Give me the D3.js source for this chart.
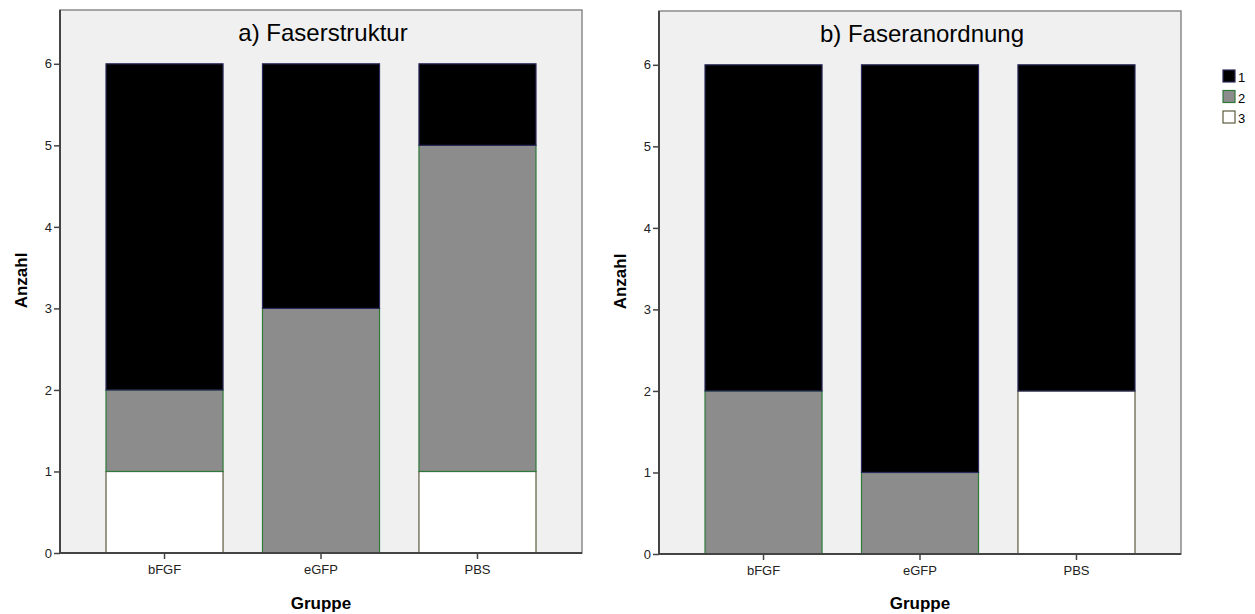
<!DOCTYPE html>
<html>
<head>
<meta charset="utf-8">
<script src="https://cdn.jsdelivr.net/npm/d3@7"></script>
<style>
  body { margin: 0; background: #fff; }
  .text { font-family: "Liberation Sans", Arial, sans-serif; fill: #000; }
  .tick text { font-family: "Liberation Sans", Arial, sans-serif; font-size: 13px; fill: #222; }
</style>
</head>
<body>
<div id="chart"></div>
<script>
// Data
const groups = ["bFGF", "eGFP", "PBS"];
const levels = ["3", "2", "1"]; // stacking order bottom -> top
const legendLevels = ["1", "2", "3"];
const yTicks = [0, 1, 2, 3, 4, 5, 6];

const faserstruktur = [
    { group: "bFGF", "3": 1, "2": 1, "1": 4 },
    { group: "eGFP", "3": 0, "2": 3, "1": 3 },
    { group: "PBS", "3": 1, "2": 4, "1": 1 }
];
const faseranordnung = [
    { group: "bFGF", "3": 0, "2": 2, "1": 4 },
    { group: "eGFP", "3": 0, "2": 1, "1": 5 },
    { group: "PBS", "3": 2, "2": 0, "1": 4 }
];

const fills = { "1": "#000000", "2": "#8c8c8c", "3": "#ffffff" };
const strokes = { "1": "#2a2a5a", "2": "#2f7a3a", "3": "#5c5a3c" };

const width = 1255;
const height = 614;

const svg = d3.select("#chart")
    .append("svg")
    .attr("width", width)
    .attr("height", height);

function drawPanel(data, titleText, left, right, top, bottom) {
    const g = svg.append("g");

    const xScale = d3.scaleBand()
        .domain(groups)
        .range([left, right])
        .paddingInner(0.252)
        .paddingOuter(0.294);

    const yScale = d3.scaleLinear()
        .domain([0, 6.66])
        .range([bottom, top]);

    // frame background
    g.append("rect")
        .attr("x", left)
        .attr("y", top)
        .attr("width", right - left)
        .attr("height", bottom - top)
        .attr("fill", "#f0f0f0")
        .attr("stroke", "#8a8a8a")
        .attr("stroke-width", 1.5);

    // stacked bars
    const stack = d3.stack().keys(levels)(data);
    g.selectAll("g.layer")
        .data(stack)
        .join("g")
        .attr("class", "layer")
        .each(function (layer) {
            d3.select(this).selectAll("rect")
                .data(layer.filter(d => d[1] - d[0] > 0))
                .join("rect")
                .attr("x", d => xScale(d.data.group))
                .attr("y", d => yScale(d[1]))
                .attr("width", xScale.bandwidth())
                .attr("height", d => yScale(d[0]) - yScale(d[1]))
                .attr("fill", fills[layer.key])
                .attr("stroke", strokes[layer.key])
                .attr("stroke-width", 1.2);
        });

    // y axis
    const yAxis = g.append("g")
        .attr("transform", `translate(${left},0)`)
        .call(d3.axisLeft(yScale).tickValues(yTicks).tickFormat(d3.format("d")).tickSize(6).tickPadding(2));
    yAxis.select(".domain").attr("stroke", "#444").attr("stroke-width", 2)
        .attr("d", `M0,${top}V${bottom}`);
    yAxis.selectAll(".tick line").attr("stroke", "#444").attr("stroke-width", 1.5);

    // x axis
    const xAxis = g.append("g")
        .attr("transform", `translate(0,${bottom})`)
        .call(d3.axisBottom(xScale).tickSize(6).tickPadding(6));
    xAxis.select(".domain").attr("stroke", "#444").attr("stroke-width", 2)
        .attr("d", `M${left},0H${right}`);
    xAxis.selectAll(".tick line").attr("stroke", "#444").attr("stroke-width", 1.5);

    // title
    g.append("text")
        .attr("class", "text")
        .attr("x", (left + right) / 2 + 2)
        .attr("y", top + 31)
        .attr("text-anchor", "middle")
        .attr("font-size", 24)
        .text(titleText);

    // axis labels
    g.append("text")
        .attr("class", "text")
        .attr("transform", `translate(${left - 33},${(top + bottom) / 2 - 1}) rotate(-90)`)
        .attr("text-anchor", "middle")
        .attr("font-size", 17)
        .attr("font-weight", "bold")
        .text("Anzahl");

    g.append("text")
        .attr("class", "text")
        .attr("x", (left + right) / 2)
        .attr("y", 609)
        .attr("text-anchor", "middle")
        .attr("font-size", 17)
        .attr("font-weight", "bold")
        .text("Gruppe");
}

drawPanel(faserstruktur, "a) Faserstruktur", 60, 582, 10, 553);
drawPanel(faseranordnung, "b) Faseranordnung", 659, 1181, 11, 554);

// legend
const legend = svg.append("g")
    .attr("transform", "translate(1223,70)");
legend.selectAll("rect")
    .data(legendLevels)
    .join("rect")
    .attr("x", 0)
    .attr("y", (d, i) => i * 20.5)
    .attr("width", 12)
    .attr("height", 12)
    .attr("fill", d => fills[d])
    .attr("stroke", d => strokes[d])
    .attr("stroke-width", 1.2);
legend.selectAll("text")
    .data(legendLevels)
    .join("text")
    .attr("class", "text")
    .attr("x", 15)
    .attr("y", (d, i) => i * 20.5 + 12)
    .attr("font-size", 13)
    .text(d => d);
</script>
</body>
</html>
